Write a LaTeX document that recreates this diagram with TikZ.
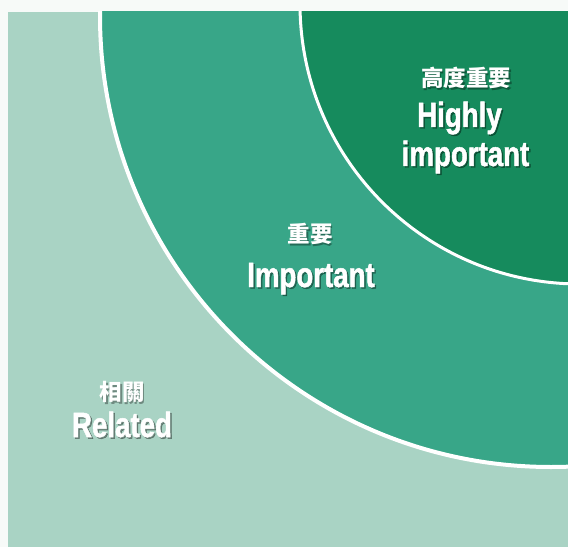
\documentclass[tikz,border=0pt]{standalone}
\usepackage{fontspec}
\newfontfamily\enfont[FakeStretch=0.79,FakeBold=1.4]{Liberation Sans Bold}
\newfontfamily\cjk{Noto Sans CJK TC}
\definecolor{pagebg}{HTML}{F7FAF8}
\definecolor{lightg}{HTML}{A9D3C4}
\definecolor{midg}{HTML}{38A688}
\definecolor{darkg}{HTML}{168B5D}
\begin{document}
\begin{tikzpicture}[x=1bp,y=-1bp,
  entext/.style={text=white,inner sep=0pt,anchor=base,font=\enfont\fontsize{35bp}{35bp}\selectfont},
  cntext/.style={text=white,inner sep=0pt,anchor=center,font=\cjk\bfseries\fontsize{22.5bp}{22.5bp}\selectfont},
  shade/.style={text=black,opacity=0.35}]
\useasboundingbox (0,0) rectangle (568,547);
\fill[pagebg] (0,0) rectangle (568,547);
\fill[lightg] (8,12) rectangle (568,547);
\begin{scope}
  \clip (8,12) rectangle (568,547);
  \fill[midg] (551,16) circle[radius=451];
  \draw[white,line width=4bp] (551,16) circle[radius=451];
  \fill[darkg] (580,4) circle[radius=280];
  \draw[white,line width=3bp] (580,4) circle[radius=280];
\end{scope}
% shadows
\node[cntext,shade] (hcs) at (467.5,79.5) {高度重要};
\node[entext,shade] (h1s) at (461,128.5) {Highly};
\node[entext,shade] (h2s) at (467,167.5) {important};
\node[cntext,shade] (ics) at (311.5,235.5) {重要};
\node[entext,shade] (ies) at (312.5,288.5) {Important};
\node[cntext,shade] (rcs) at (123.5,393.5) {相關};
\node[entext,shade] (res) at (123.5,438.5) {Related};
% texts
\node[cntext] (hc) at (466,78) {高度重要};
\node[entext] (h1) at (459.5,127) {Highly};
\node[entext] (h2) at (465.5,166) {important};
\node[cntext] (ic) at (310,234) {重要};
\node[entext] (ie) at (311,287) {Important};
\node[cntext] (rc) at (122,392) {相關};
\node[entext] (re) at (122,437) {Related};
\end{tikzpicture}
\end{document}
